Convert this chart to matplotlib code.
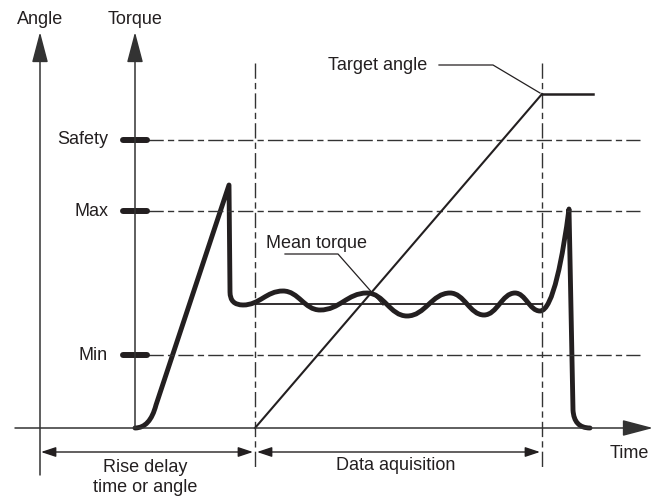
import numpy as np
import matplotlib
matplotlib.use('Agg')
import matplotlib.pyplot as plt
from matplotlib.path import Path
from matplotlib.patches import PathPatch

plt.rcParams['font.family'] = ['Liberation Sans', 'DejaVu Sans']

# diagram geometry, in pixel units of the 660x500 canvas (y grows downwards)
angle_axis_x = 40
torque_axis_x = 135
time_axis_y = 428
axis_top = 32
time_axis_end = 653

limit_names = ['Safety', 'Max', 'Min']
limit_levels = [140, 211, 355]

phase_x = [255, 542]          # start / end of data acquisition
mean_torque = 304

# torque trace: rise, first peak, drop
rise_start = (135, 428)
rise_knee = (156, 405)
first_peak = (229, 185)
drop_end = (230, 292)
settle = (243, 305)
# oscillation extremes during acquisition
wave_x = [243, 283, 320, 367, 407, 450, 484, 515, 540]
wave_y = [305, 291, 310, 293, 316, 293, 315, 293, 311]
# final tightening spike and release
spike_peak = (569, 209)
release = (573, 410)
trace_end = (590, 428)

# angle trace
angle_x = [255, 542, 593]
angle_y = [428, 94, 94]

ink = '#231f20'
axis_ink = '#333333'


def torque_path():
    verts = [rise_start, (150, 428), rise_knee, first_peak, drop_end,
             (230, 305), settle]
    codes = [Path.MOVETO, Path.CURVE3, Path.CURVE3, Path.LINETO, Path.LINETO,
             Path.CURVE3, Path.CURVE3]
    for i in range(len(wave_x) - 1):
        x1, y1, x2, y2 = wave_x[i], wave_y[i], wave_x[i + 1], wave_y[i + 1]
        dx = x2 - x1
        verts += [(x1 + 0.42 * dx, y1), (x2 - 0.42 * dx, y2), (x2, y2)]
        codes += [Path.CURVE4] * 3
    verts += [(553, 311), (563, 255), spike_peak, release,
              (574, 428), trace_end]
    codes += [Path.CURVE4] * 3 + [Path.LINETO] + [Path.CURVE3] * 2
    return Path(verts, codes)


fig = plt.figure(figsize=(6.6, 5), dpi=100)
ax = fig.add_axes([0, 0, 1, 1])
ax.set_xlim(0, 660)
ax.set_ylim(500, 0)
ax.axis('off')

dashdot = (0, (11, 3, 4.5, 3))

# axes with arrow heads
head = '-|>,head_length=1.9,head_width=0.5'
for x0, y0 in [(angle_axis_x, 475), (torque_axis_x, time_axis_y)]:
    ax.annotate('', xy=(x0, axis_top), xytext=(x0, y0),
                arrowprops=dict(arrowstyle=head, color=axis_ink, lw=1.1,
                                mutation_scale=10, shrinkA=0, shrinkB=0))
ax.annotate('', xy=(time_axis_end, time_axis_y), xytext=(15, time_axis_y),
            arrowprops=dict(arrowstyle=head, color=axis_ink, lw=1.1,
                            mutation_scale=10, shrinkA=0, shrinkB=0))

ax.text(angle_axis_x, 20, 'Angle', ha='center', va='center', fontsize=13, color=ink)
ax.text(torque_axis_x, 20, 'Torque', ha='center', va='center', fontsize=13, color=ink)
ax.text(610, 453, 'Time', ha='left', va='center', fontsize=13, color=ink)

# limit levels
for name, lvl in zip(limit_names, limit_levels):
    ax.plot([148, 640], [lvl, lvl], color=axis_ink, lw=1.0, ls=dashdot)
    ax.plot([123, 147], [lvl, lvl], color=ink, lw=4.3, solid_capstyle='round')
    ax.text(108, lvl, name, ha='right', va='center', fontsize=13, color=ink)

# phase boundaries
for px in phase_x:
    ax.plot([px, px], [63, 470], color=axis_ink, lw=1.0, ls=dashdot)

# dimension arrows
dim = '<|-|>,head_length=0.9,head_width=0.3'
ax.annotate('', xy=(angle_axis_x + 1, 452), xytext=(phase_x[0] - 2, 452),
            arrowprops=dict(arrowstyle=dim, color=ink, lw=1.0,
                            mutation_scale=10, shrinkA=0, shrinkB=0))
ax.annotate('', xy=(phase_x[0] + 2, 452), xytext=(phase_x[1] - 2, 452),
            arrowprops=dict(arrowstyle=dim, color=ink, lw=1.0,
                            mutation_scale=10, shrinkA=0, shrinkB=0))
ax.text(145, 467, 'Rise delay', ha='center', va='center', fontsize=13, color=ink)
ax.text(145, 488, 'time or angle', ha='center', va='center', fontsize=13, color=ink)
ax.text(396, 466, 'Data aquisition', ha='center', va='center', fontsize=13, color=ink)

# angle trace
ax.plot(angle_x[:2], angle_y[:2], color=ink, lw=1.5)
ax.plot(angle_x[1:], angle_y[1:], color=ink, lw=1.8)

# mean torque
ax.plot([settle[0], phase_x[1]], [mean_torque, mean_torque], color=ink, lw=1.3)

# torque trace
ax.add_patch(PathPatch(torque_path(), fill=False, edgecolor=ink, lw=3.5,
                       capstyle='round', joinstyle='round'))

# labels with leader lines
ax.text(328, 65, 'Target angle', ha='left', va='center', fontsize=13, color=ink)
ax.plot([439, 493, 540], [65, 65, 93], color=ink, lw=0.9)
ax.text(266, 243, 'Mean torque', ha='left', va='center', fontsize=13, color=ink)
ax.plot([285, 338, 383], [254, 254, 305], color=ink, lw=0.9)

fig.savefig('out.png', dpi=100)
